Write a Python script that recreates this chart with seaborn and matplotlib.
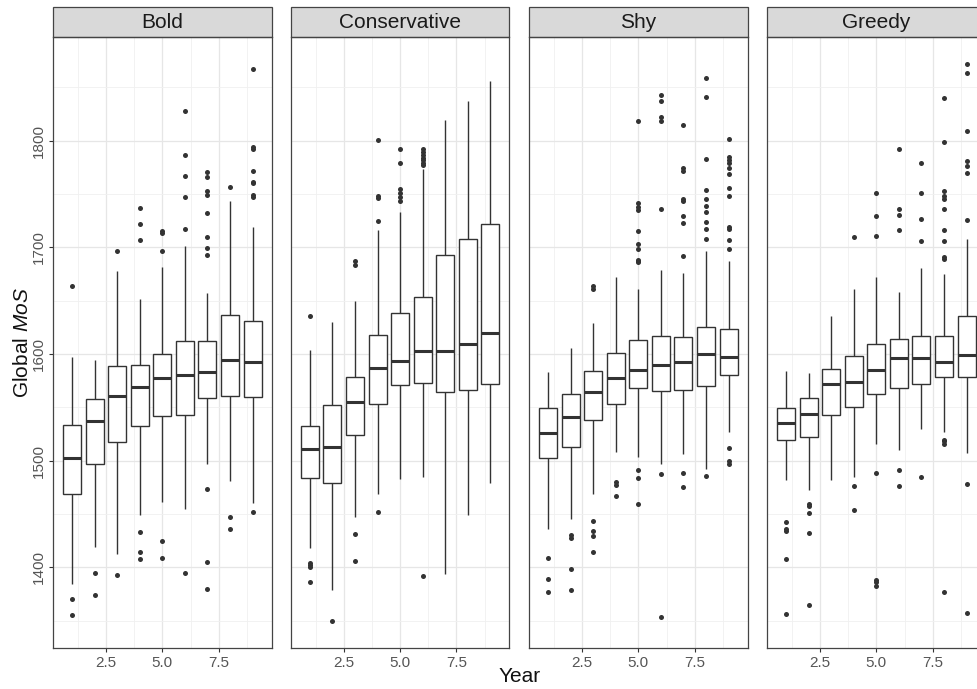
import numpy as np
import pandas as pd
import matplotlib
matplotlib.use("Agg")
import matplotlib.pyplot as plt
from matplotlib.patches import Rectangle
import seaborn as sns

years = [1, 2, 3, 4, 5, 6, 7, 8, 9]
groups = ["Bold", "Conservative", "Shy", "Greedy"]

# box stats: whisker low, q1, median, q3, whisker high
bold_lo = [1384, 1419, 1412, 1449, 1461, 1455, 1497, 1481, 1460]
bold_q1 = [1469, 1497, 1517, 1532, 1542, 1543, 1559, 1561, 1560]
bold_med = [1502, 1537, 1561, 1569, 1577, 1580, 1583, 1594, 1592]
bold_q3 = [1533, 1558, 1589, 1590, 1600, 1612, 1612, 1637, 1631]
bold_hi = [1597, 1594, 1678, 1652, 1682, 1701, 1657, 1743, 1719]
bold_out = {1: [1370, 1355, 1664], 2: [1395, 1374], 3: [1393, 1697],
            4: [1433, 1414, 1408, 1737, 1722, 1707],
            5: [1425, 1409, 1715, 1713, 1697],
            6: [1395, 1828, 1787, 1767, 1747, 1717],
            7: [1473, 1405, 1380, 1771, 1766, 1753, 1749, 1732, 1710, 1699, 1693],
            8: [1447, 1436, 1757],
            9: [1452, 1867, 1794, 1792, 1772, 1761, 1760, 1749, 1747]}

cons_lo = [1418, 1379, 1447, 1469, 1483, 1485, 1394, 1449, 1479]
cons_q1 = [1484, 1479, 1524, 1553, 1571, 1573, 1564, 1566, 1572]
cons_med = [1511, 1513, 1555, 1587, 1593, 1603, 1603, 1609, 1620]
cons_q3 = [1532, 1552, 1578, 1618, 1638, 1653, 1693, 1708, 1722]
cons_hi = [1604, 1630, 1650, 1716, 1733, 1773, 1819, 1837, 1856]
cons_out = {1: [1404, 1402, 1400, 1386, 1636], 2: [1350],
            3: [1431, 1406, 1687, 1683],
            4: [1452, 1801, 1748, 1746, 1725],
            5: [1792, 1779, 1755, 1751, 1747, 1743],
            6: [1392, 1792, 1789, 1787, 1784, 1782, 1779, 1777],
            7: [], 8: [], 9: []}

shy_lo = [1436, 1445, 1469, 1508, 1503, 1497, 1506, 1492, 1527]
shy_q1 = [1502, 1513, 1538, 1553, 1568, 1565, 1566, 1570, 1580]
shy_med = [1526, 1541, 1564, 1577, 1585, 1590, 1592, 1600, 1597]
shy_q3 = [1549, 1562, 1584, 1601, 1613, 1617, 1616, 1625, 1623]
shy_hi = [1583, 1606, 1629, 1672, 1661, 1679, 1676, 1697, 1687]
shy_out = {1: [1409, 1389, 1377], 2: [1430, 1427, 1398, 1379],
           3: [1443, 1434, 1429, 1414, 1664, 1661],
           4: [1480, 1477, 1467],
           5: [1491, 1484, 1459, 1818, 1742, 1738, 1735, 1715, 1703, 1698, 1688, 1687, 1686],
           6: [1487, 1353, 1843, 1837, 1822, 1818, 1736],
           7: [1488, 1475, 1815, 1774, 1772, 1745, 1743, 1729, 1723, 1692],
           8: [1486, 1859, 1841, 1783, 1754, 1745, 1739, 1733, 1724, 1717, 1708],
           9: [1512, 1500, 1497, 1802, 1785, 1782, 1779, 1774, 1769, 1756, 1748,
               1719, 1717, 1707, 1698]}

greedy_lo = [1482, 1472, 1482, 1485, 1516, 1510, 1530, 1527, 1507]
greedy_q1 = [1519, 1522, 1543, 1550, 1562, 1568, 1572, 1578, 1578]
greedy_med = [1535, 1544, 1572, 1574, 1585, 1596, 1596, 1592, 1599]
greedy_q3 = [1549, 1559, 1586, 1598, 1609, 1614, 1617, 1617, 1636]
greedy_hi = [1584, 1582, 1636, 1661, 1672, 1658, 1681, 1675, 1708]
greedy_out = {1: [1442, 1436, 1434, 1408, 1356], 2: [1459, 1457, 1451, 1432, 1365],
              3: [], 4: [1476, 1454, 1710],
              5: [1488, 1388, 1386, 1382, 1751, 1729, 1711],
              6: [1491, 1476, 1792, 1736, 1730, 1716],
              7: [1485, 1779, 1751, 1727, 1706],
              8: [1519, 1518, 1516, 1377, 1840, 1799, 1753, 1748, 1745, 1736,
                  1716, 1706, 1691, 1689],
              9: [1478, 1357, 1872, 1863, 1809, 1781, 1776, 1770, 1726]}

stats = {
    "Bold": (bold_lo, bold_q1, bold_med, bold_q3, bold_hi, bold_out),
    "Conservative": (cons_lo, cons_q1, cons_med, cons_q3, cons_hi, cons_out),
    "Shy": (shy_lo, shy_q1, shy_med, shy_q3, shy_hi, shy_out),
    "Greedy": (greedy_lo, greedy_q1, greedy_med, greedy_q3, greedy_hi, greedy_out),
}

sns.set_theme(style="white")
plt.rcParams["font.family"] = ["Liberation Sans", "DejaVu Sans"]
plt.rcParams["mathtext.fontset"] = "custom"
plt.rcParams["mathtext.rm"] = "Liberation Sans"
plt.rcParams["mathtext.it"] = "Liberation Sans:italic"

W, H = 977, 689
fig = plt.figure(figsize=(W / 100, H / 100), dpi=100)

# panel layout in pixels (last panel runs past the right edge, as in the reference)
left_px = [53.3, 291.0, 529.3, 767.3]
panel_w, top_px, bot_px = 218.2, 36.7, 648.3
strip_h = 29.4 / (bot_px - top_px)
line_col = "#333333"

for i, name in enumerate(groups):
    ax = fig.add_axes([left_px[i] / W, (H - bot_px) / H, panel_w / W, (bot_px - top_px) / H])
    lo, q1, med, q3, hi, out = stats[name]
    df = pd.DataFrame({
        "year": np.repeat(years, 5),
        "value": np.column_stack([lo, q1, med, q3, hi]).ravel(),
    })

    ax.set_xticks([1.25, 3.75, 6.25, 8.75], minor=True)
    ax.set_yticks([1350, 1450, 1550, 1650, 1750, 1850], minor=True)
    ax.grid(which="major", color="#E6E6E6", lw=0.9, zorder=0)
    ax.grid(which="minor", color="#F0F0F0", lw=0.6, zorder=0)
    ax.set_axisbelow(True)

    sns.boxplot(data=df, x="year", y="value", native_scale=True, width=0.8,
                whis=(0, 100), color="white", linecolor=line_col, linewidth=1.0,
                fliersize=0, medianprops={"linewidth": 2.2},
                capprops={"linewidth": 0}, ax=ax)

    ox = [y for y in years for v in out[y]]
    oy = [v for y in years for v in out[y]]
    sns.scatterplot(x=ox, y=oy, ax=ax, color=line_col, s=13, linewidth=0, zorder=4)

    ax.set_xlim(0.16, 9.84)
    ax.set_ylim(1324, 1897.5)
    ax.set_xticks([2.5, 5.0, 7.5])
    ax.set_xticklabels(["2.5", "5.0", "7.5"])
    ax.set_yticks([1400, 1500, 1600, 1700, 1800])
    ax.set_xlabel("")
    ax.set_ylabel("")
    ax.tick_params(axis="both", which="major", length=2.75, width=0.8, color=line_col,
                   labelsize=11, labelcolor="#555555", pad=2.5)
    ax.tick_params(which="minor", length=0)
    if i == 0:
        ax.tick_params(axis="y", left=True)
        for lab in ax.get_yticklabels():
            lab.set_rotation(90)
            lab.set_va("center")
    else:
        ax.tick_params(axis="y", left=False, labelleft=False)
    ax.tick_params(axis="x", bottom=True)
    for sp in ax.spines.values():
        sp.set_color("#444444")
        sp.set_linewidth(0.9)

    ax.add_patch(Rectangle((0, 1), 1, strip_h, transform=ax.transAxes, clip_on=False,
                           facecolor="#D9D9D9", edgecolor="#444444", lw=0.9))
    ax.text(0.5, 1 + strip_h / 2, name, transform=ax.transAxes, ha="center",
            va="center", fontsize=15, color="#1A1A1A")

fig.text(520 / W, (H - 677) / H, "Year", ha="center", va="center", fontsize=15, color="#111111")
fig.text(23 / W, (H - 343) / H, r"Global $\mathit{MoS}$", ha="center", va="center",
         rotation=90, fontsize=15, color="#111111")

fig.savefig("out.png", dpi=100)
